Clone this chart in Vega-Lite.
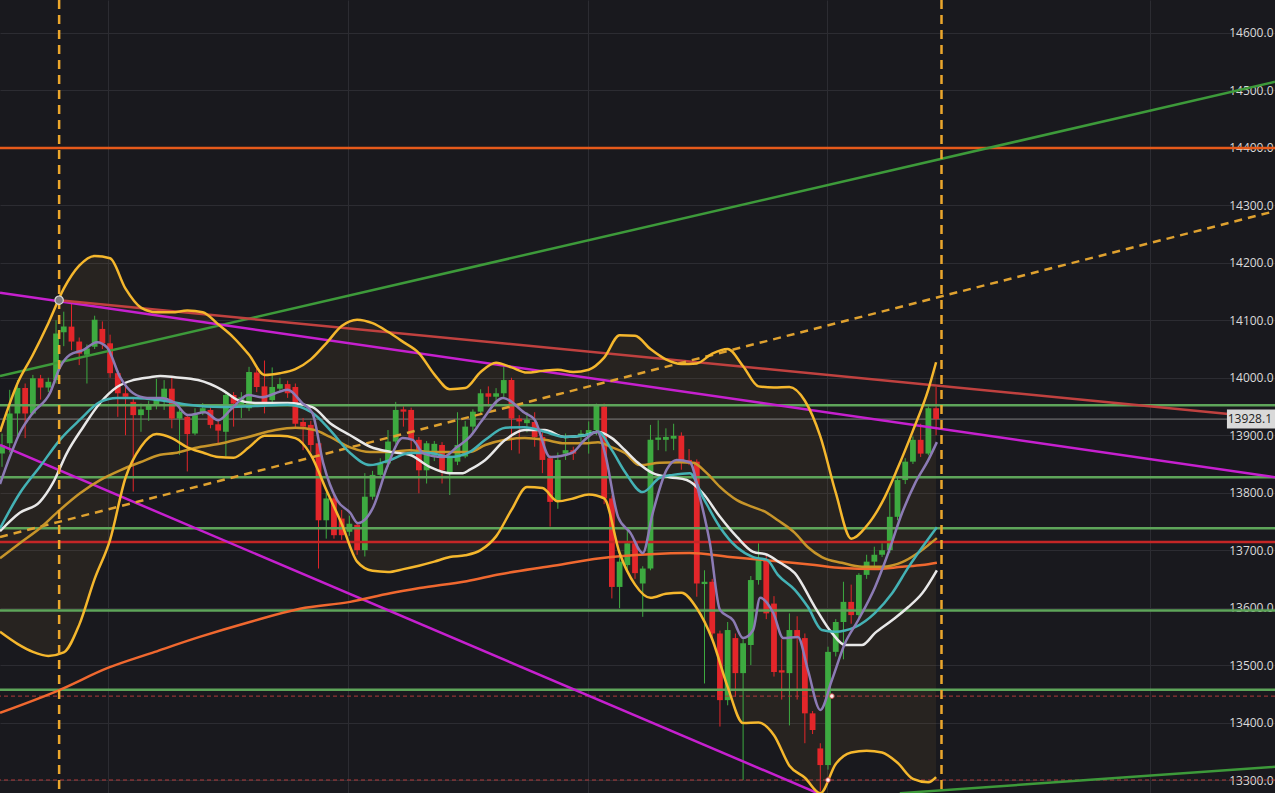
{
"$schema": "https://vega.github.io/schema/vega-lite/v6.json",
"width": 1275, "height": 793,
"autosize": {"type": "none"},
"padding": 0,
"background": "#19191e",
"config": {"view": {"stroke": null}},
"datasets": {
"candles": [
{"t":0,"o":13868,"h":13903,"l":13845,"c":13882},{"t":1,"o":13886,"h":13979,"l":13870,"c":13938},{"t":2,"o":13938,"h":13996,"l":13898,"c":13982},{"t":3,"o":13982,"h":13990,"l":13895,"c":13938},{"t":4,"o":13938,"h":14005,"l":13935,"c":13999},{"t":5,"o":13999,"h":14005,"l":13962,"c":13983},{"t":6,"o":13983,"h":14000,"l":13975,"c":13993},{"t":7,"o":13996,"h":14100,"l":13990,"c":14077},{"t":8,"o":14079,"h":14115,"l":14055,"c":14089},{"t":9,"o":14089,"h":14129,"l":14048,"c":14063},
{"t":10,"o":14063,"h":14070,"l":14022,"c":14042},{"t":11,"o":14040,"h":14058,"l":13990,"c":14051},{"t":12,"o":14054,"h":14108,"l":14050,"c":14101},{"t":13,"o":14085,"h":14098,"l":14050,"c":14060},{"t":14,"o":14060,"h":14075,"l":14000,"c":14008},{"t":15,"o":14008,"h":14012,"l":13932,"c":13973},{"t":16,"o":13973,"h":13985,"l":13900,"c":13967},{"t":17,"o":13958,"h":13965,"l":13802,"c":13935},{"t":18,"o":13935,"h":13955,"l":13906,"c":13945},{"t":19,"o":13944,"h":13960,"l":13925,"c":13952},
{"t":20,"o":13952,"h":13998,"l":13945,"c":13964},{"t":21,"o":13961,"h":13996,"l":13944,"c":13981},{"t":22,"o":13981,"h":14002,"l":13912,"c":13929},{"t":23,"o":13929,"h":13950,"l":13866,"c":13941},{"t":24,"o":13932,"h":13935,"l":13837,"c":13902},{"t":25,"o":13903,"h":13947,"l":13900,"c":13935},{"t":26,"o":13939,"h":13956,"l":13935,"c":13947},{"t":27,"o":13944,"h":13950,"l":13912,"c":13918},{"t":28,"o":13919,"h":13926,"l":13883,"c":13908},{"t":29,"o":13906,"h":13975,"l":13863,"c":13970},
{"t":30,"o":13970,"h":13975,"l":13915,"c":13955},{"t":31,"o":13953,"h":13975,"l":13930,"c":13966},{"t":32,"o":13947,"h":14019,"l":13942,"c":14010},{"t":33,"o":14009,"h":14016,"l":13975,"c":13984},{"t":34,"o":13985,"h":14030,"l":13938,"c":13955},{"t":35,"o":13961,"h":14018,"l":13955,"c":13984},{"t":36,"o":13981,"h":14000,"l":13975,"c":13989},{"t":37,"o":13989,"h":13995,"l":13965,"c":13973},{"t":38,"o":13984,"h":13990,"l":13912,"c":13920},{"t":39,"o":13923,"h":13930,"l":13874,"c":13915},
{"t":40,"o":13918,"h":13925,"l":13870,"c":13883},{"t":41,"o":13886,"h":13890,"l":13668,"c":13752},{"t":42,"o":13752,"h":13800,"l":13720,"c":13790},{"t":43,"o":13790,"h":13799,"l":13720,"c":13726},{"t":44,"o":13755,"h":13770,"l":13718,"c":13726},{"t":45,"o":13732,"h":13760,"l":13725,"c":13746},{"t":46,"o":13744,"h":13750,"l":13692,"c":13700},{"t":47,"o":13700,"h":13834,"l":13689,"c":13793},{"t":48,"o":13793,"h":13838,"l":13788,"c":13831},{"t":49,"o":13831,"h":13860,"l":13828,"c":13851},
{"t":50,"o":13851,"h":13909,"l":13845,"c":13889},{"t":51,"o":13889,"h":13958,"l":13885,"c":13944},{"t":52,"o":13945,"h":13950,"l":13915,"c":13941},{"t":53,"o":13944,"h":13948,"l":13868,"c":13892},{"t":54,"o":13892,"h":13897,"l":13799,"c":13839},{"t":55,"o":13839,"h":13890,"l":13816,"c":13886},{"t":56,"o":13863,"h":13890,"l":13855,"c":13885},{"t":57,"o":13883,"h":13888,"l":13816,"c":13839},{"t":58,"o":13834,"h":13868,"l":13796,"c":13862},{"t":59,"o":13854,"h":13940,"l":13848,"c":13883},
{"t":60,"o":13863,"h":13925,"l":13860,"c":13915},{"t":61,"o":13915,"h":13945,"l":13905,"c":13941},{"t":62,"o":13941,"h":13980,"l":13935,"c":13973},{"t":63,"o":13973,"h":13985,"l":13950,"c":13967},{"t":64,"o":13967,"h":13982,"l":13953,"c":13973},{"t":65,"o":13973,"h":14022,"l":13965,"c":13996},{"t":66,"o":13996,"h":14000,"l":13874,"c":13929},{"t":67,"o":13929,"h":13935,"l":13868,"c":13924},{"t":68,"o":13921,"h":13940,"l":13905,"c":13927},{"t":69,"o":13923,"h":13940,"l":13880,"c":13897},
{"t":70,"o":13897,"h":13905,"l":13834,"c":13857},{"t":71,"o":13860,"h":13865,"l":13741,"c":13784},{"t":72,"o":13784,"h":13870,"l":13772,"c":13857},{"t":73,"o":13868,"h":13903,"l":13857,"c":13874},{"t":74,"o":13874,"h":13880,"l":13857,"c":13868},{"t":75,"o":13897,"h":13909,"l":13885,"c":13903},{"t":76,"o":13903,"h":13924,"l":13868,"c":13909},{"t":77,"o":13909,"h":13955,"l":13900,"c":13952},{"t":78,"o":13950,"h":13955,"l":13780,"c":13790},{"t":79,"o":13790,"h":13795,"l":13616,"c":13636},
{"t":80,"o":13636,"h":13690,"l":13599,"c":13680},{"t":81,"o":13674,"h":13735,"l":13665,"c":13712},{"t":82,"o":13712,"h":13718,"l":13650,"c":13660},{"t":83,"o":13642,"h":13672,"l":13584,"c":13668},{"t":84,"o":13668,"h":13918,"l":13665,"c":13892},{"t":85,"o":13892,"h":13926,"l":13874,"c":13896},{"t":86,"o":13892,"h":13912,"l":13872,"c":13897},{"t":87,"o":13894,"h":13920,"l":13874,"c":13899},{"t":88,"o":13899,"h":13905,"l":13840,"c":13854},{"t":89,"o":13857,"h":13876,"l":13848,"c":13851},
{"t":90,"o":13854,"h":13858,"l":13619,"c":13642},{"t":91,"o":13641,"h":13665,"l":13468,"c":13645},{"t":92,"o":13645,"h":13650,"l":13545,"c":13555},{"t":93,"o":13555,"h":13560,"l":13393,"c":13439},{"t":94,"o":13439,"h":13575,"l":13430,"c":13561},{"t":95,"o":13547,"h":13555,"l":13445,"c":13486},{"t":96,"o":13486,"h":13545,"l":13300,"c":13538},{"t":97,"o":13535,"h":13655,"l":13500,"c":13648},{"t":98,"o":13648,"h":13712,"l":13640,"c":13683},{"t":99,"o":13683,"h":13690,"l":13580,"c":13590},
{"t":100,"o":13607,"h":13620,"l":13480,"c":13488},{"t":101,"o":13491,"h":13545,"l":13440,"c":13487},{"t":102,"o":13486,"h":13590,"l":13395,"c":13561},{"t":103,"o":13561,"h":13585,"l":13440,"c":13549},{"t":104,"o":13547,"h":13555,"l":13364,"c":13416},{"t":105,"o":13416,"h":13420,"l":13380,"c":13387},{"t":106,"o":13355,"h":13364,"l":13280,"c":13326},{"t":107,"o":13326,"h":13532,"l":13318,"c":13523},{"t":108,"o":13523,"h":13580,"l":13515,"c":13575},{"t":109,"o":13575,"h":13645,"l":13510,"c":13610},
{"t":110,"o":13610,"h":13640,"l":13572,"c":13587},{"t":111,"o":13587,"h":13660,"l":13580,"c":13657},{"t":112,"o":13657,"h":13692,"l":13650,"c":13680},{"t":113,"o":13680,"h":13706,"l":13672,"c":13692},{"t":114,"o":13692,"h":13712,"l":13688,"c":13700},{"t":115,"o":13700,"h":13800,"l":13695,"c":13758},{"t":116,"o":13758,"h":13826,"l":13752,"c":13822},{"t":117,"o":13822,"h":13860,"l":13815,"c":13854},{"t":118,"o":13854,"h":13898,"l":13850,"c":13892},{"t":119,"o":13892,"h":13920,"l":13862,"c":13868},
{"t":120,"o":13868,"h":13950,"l":13865,"c":13947},{"t":121,"o":13947,"h":13984,"l":13900,"c":13928.1}
],
"bb": [
{"t":-0.26,"u":13906,"l":13558},{"t":2,"u":13990,"l":13537},{"t":4,"u":14040,"l":13523},{"t":6,"u":14095,"l":13516},{"t":8,"u":14155,"l":13522},{"t":10,"u":14195,"l":13570},{"t":12,"u":14212,"l":13650},{"t":14,"u":14208,"l":13718},{"t":16,"u":14155,"l":13826},{"t":18,"u":14122,"l":13880},
{"t":20,"u":14114,"l":13902},{"t":22,"u":14114,"l":13895},{"t":24,"u":14117,"l":13879},{"t":26,"u":14114,"l":13870},{"t":28,"u":14093,"l":13862},{"t":30,"u":14070,"l":13861},{"t":32,"u":14040,"l":13879},{"t":34,"u":14005,"l":13899},{"t":36,"u":14008,"l":13899},{"t":38,"u":14015,"l":13895},
{"t":40,"u":14032,"l":13866},{"t":42,"u":14060,"l":13805},{"t":44,"u":14090,"l":13746},{"t":46,"u":14101,"l":13680},{"t":48,"u":14095,"l":13664},{"t":50,"u":14080,"l":13662},{"t":52,"u":14062,"l":13667},{"t":54,"u":14043,"l":13673},{"t":56,"u":14006,"l":13680},{"t":58,"u":13980,"l":13688},
{"t":60,"u":13982,"l":13691},{"t":62,"u":14010,"l":13700},{"t":64,"u":14026,"l":13724},{"t":66,"u":14018,"l":13770},{"t":68,"u":14009,"l":13810},{"t":70,"u":14012,"l":13808},{"t":72,"u":14014,"l":13785},{"t":74,"u":14010,"l":13790},{"t":76,"u":14014,"l":13797},{"t":78,"u":14035,"l":13790},
{"t":80,"u":14074,"l":13695},{"t":82,"u":14073,"l":13640},{"t":84,"u":14050,"l":13617},{"t":86,"u":14032,"l":13624},{"t":88,"u":14024,"l":13626},{"t":90,"u":14025,"l":13599},{"t":92,"u":14042,"l":13545},{"t":94,"u":14050,"l":13462},{"t":96,"u":14020,"l":13399},{"t":98,"u":13985,"l":13400},
{"t":100,"u":13983,"l":13378},{"t":102,"u":13984,"l":13325},{"t":104,"u":13960,"l":13304},{"t":106,"u":13898,"l":13277},{"t":108,"u":13800,"l":13328},{"t":110,"u":13720,"l":13348},{"t":112,"u":13742,"l":13351},{"t":114,"u":13783,"l":13348},{"t":116,"u":13842,"l":13330},{"t":118,"u":13908,"l":13302},
{"t":120,"u":13980,"l":13296},{"t":121,"u":14027,"l":13305}
],
"ma": [
{"s":"O","t":-0.26,"v":13417},{"s":"O","t":7.5,"v":13457},{"s":"O","t":13.7,"v":13495},{"s":"O","t":19.8,"v":13523},{"s":"O","t":25.6,"v":13549},{"s":"O","t":32.1,"v":13575},{"s":"O","t":38.6,"v":13598},{"s":"O","t":45.1,"v":13610},{"s":"O","t":50.3,"v":13625},{"s":"O","t":54.1,"v":13634},{"s":"O","t":60.2,"v":13646},{"s":"O","t":64.5,"v":13658},{"s":"O","t":71,"v":13672},{"s":"O","t":77.5,"v":13686},{"s":"O","t":83.9,"v":13693},{"s":"O","t":89.1,"v":13695},{"s":"O","t":94.3,"v":13688},{"s":"O","t":100.1,"v":13681},{"s":"O","t":105.3,"v":13674},{"s":"O","t":108.8,"v":13669},{"s":"O","t":113.1,"v":13667},{"s":"O","t":116.6,"v":13671},{"s":"O","t":119.2,"v":13674},{"s":"O","t":121.1,"v":13678},
{"s":"G","t":-0.26,"v":13686},{"s":"G","t":2.3,"v":13712},{"s":"G","t":4.9,"v":13738},{"s":"G","t":7.5,"v":13770},{"s":"G","t":10.1,"v":13799},{"s":"G","t":12.7,"v":13822},{"s":"G","t":15.3,"v":13839},{"s":"G","t":17.9,"v":13853},{"s":"G","t":20.5,"v":13866},{"s":"G","t":22.4,"v":13869},{"s":"G","t":25,"v":13878},{"s":"G","t":28.5,"v":13886},{"s":"G","t":31.9,"v":13897},{"s":"G","t":35.4,"v":13909},{"s":"G","t":38,"v":13913},{"s":"G","t":40.5,"v":13909},{"s":"G","t":42.5,"v":13897},{"s":"G","t":45.1,"v":13879},{"s":"G","t":47.7,"v":13871},{"s":"G","t":50.3,"v":13871},{"s":"G","t":52.8,"v":13874},{"s":"G","t":55.4,"v":13871},{"s":"G","t":60.6,"v":13871},{"s":"G","t":62.6,"v":13883},{"s":"G","t":65.2,"v":13892},{"s":"G","t":67.7,"v":13895},{"s":"G","t":70.3,"v":13892},{"s":"G","t":72.9,"v":13886},{"s":"G","t":75.5,"v":13886},{"s":"G","t":77.2,"v":13888},{"s":"G","t":79,"v":13879},{"s":"G","t":80.7,"v":13869},{"s":"G","t":82.6,"v":13848},{"s":"G","t":85.2,"v":13852},{"s":"G","t":87.8,"v":13853},{"s":"G","t":89.5,"v":13852},{"s":"G","t":91.3,"v":13834},{"s":"G","t":93,"v":13810},{"s":"G","t":95.2,"v":13787},{"s":"G","t":97.3,"v":13775},{"s":"G","t":99.1,"v":13765},{"s":"G","t":100.5,"v":13752},{"s":"G","t":102.7,"v":13730},{"s":"G","t":104.4,"v":13705},{"s":"G","t":106.2,"v":13688},{"s":"G","t":108.8,"v":13678},{"s":"G","t":111.4,"v":13671},{"s":"G","t":114,"v":13671},{"s":"G","t":116.6,"v":13679},{"s":"G","t":118.3,"v":13692},{"s":"G","t":120,"v":13709},{"s":"G","t":121.1,"v":13721},
{"s":"W","t":-0.26,"v":13733},{"s":"W","t":2.3,"v":13765},{"s":"W","t":4.9,"v":13784},{"s":"W","t":6.6,"v":13817},{"s":"W","t":8.4,"v":13869},{"s":"W","t":10.5,"v":13914},{"s":"W","t":12.7,"v":13956},{"s":"W","t":14.9,"v":13984},{"s":"W","t":17,"v":13996},{"s":"W","t":19.2,"v":14001},{"s":"W","t":20.5,"v":14003},{"s":"W","t":22.4,"v":14001},{"s":"W","t":25.4,"v":13996},{"s":"W","t":28.5,"v":13979},{"s":"W","t":30.6,"v":13961},{"s":"W","t":32.8,"v":13956},{"s":"W","t":37,"v":13956},{"s":"W","t":40.2,"v":13949},{"s":"W","t":42.5,"v":13921},{"s":"W","t":45.1,"v":13900},{"s":"W","t":47.7,"v":13880},{"s":"W","t":50.3,"v":13871},{"s":"W","t":52.8,"v":13866},{"s":"W","t":55.4,"v":13845},{"s":"W","t":58,"v":13834},{"s":"W","t":59.7,"v":13834},{"s":"W","t":60.6,"v":13840},{"s":"W","t":62.6,"v":13857},{"s":"W","t":65.2,"v":13892},{"s":"W","t":67.7,"v":13909},{"s":"W","t":70.3,"v":13909},{"s":"W","t":72.9,"v":13897},{"s":"W","t":75.5,"v":13900},{"s":"W","t":77.2,"v":13906},{"s":"W","t":79,"v":13895},{"s":"W","t":80.7,"v":13874},{"s":"W","t":82.3,"v":13853},{"s":"W","t":84.3,"v":13834},{"s":"W","t":86.5,"v":13827},{"s":"W","t":88.7,"v":13822},{"s":"W","t":90.8,"v":13799},{"s":"W","t":93,"v":13758},{"s":"W","t":95.2,"v":13723},{"s":"W","t":97.3,"v":13697},{"s":"W","t":99.1,"v":13692},{"s":"W","t":100.8,"v":13678},{"s":"W","t":102.7,"v":13660},{"s":"W","t":105.3,"v":13601},{"s":"W","t":107.5,"v":13556},{"s":"W","t":109.2,"v":13535},{"s":"W","t":111.4,"v":13535},{"s":"W","t":113.1,"v":13556},{"s":"W","t":115.3,"v":13578},{"s":"W","t":117.4,"v":13601},{"s":"W","t":119.2,"v":13625},{"s":"W","t":121.1,"v":13665},
{"s":"T","t":-0.26,"v":13738},{"s":"T","t":2.3,"v":13799},{"s":"T","t":4.9,"v":13845},{"s":"T","t":7.5,"v":13892},{"s":"T","t":10.1,"v":13927},{"s":"T","t":12.7,"v":13958},{"s":"T","t":14.9,"v":13965},{"s":"T","t":17,"v":13965},{"s":"T","t":20.5,"v":13961},{"s":"T","t":22,"v":13958},{"s":"T","t":24.1,"v":13953},{"s":"T","t":28.5,"v":13949},{"s":"T","t":32.8,"v":13951},{"s":"T","t":37,"v":13953},{"s":"T","t":40.2,"v":13939},{"s":"T","t":42.5,"v":13909},{"s":"T","t":45.1,"v":13869},{"s":"T","t":47.7,"v":13848},{"s":"T","t":50.3,"v":13857},{"s":"T","t":52.8,"v":13869},{"s":"T","t":55.4,"v":13869},{"s":"T","t":58,"v":13862},{"s":"T","t":60.6,"v":13871},{"s":"T","t":62.6,"v":13892},{"s":"T","t":65.2,"v":13913},{"s":"T","t":67.7,"v":13914},{"s":"T","t":70.3,"v":13906},{"s":"T","t":72.9,"v":13897},{"s":"T","t":75.5,"v":13900},{"s":"T","t":77.2,"v":13906},{"s":"T","t":79,"v":13874},{"s":"T","t":80.7,"v":13836},{"s":"T","t":83,"v":13801},{"s":"T","t":85.2,"v":13826},{"s":"T","t":86.9,"v":13831},{"s":"T","t":89.1,"v":13834},{"s":"T","t":90.8,"v":13792},{"s":"T","t":93,"v":13740},{"s":"T","t":95.2,"v":13705},{"s":"T","t":97.3,"v":13688},{"s":"T","t":99.1,"v":13683},{"s":"T","t":100.5,"v":13657},{"s":"T","t":102.7,"v":13631},{"s":"T","t":104.4,"v":13601},{"s":"T","t":106.2,"v":13561},{"s":"T","t":107.9,"v":13558},{"s":"T","t":110.5,"v":13566},{"s":"T","t":113.1,"v":13591},{"s":"T","t":115.3,"v":13625},{"s":"T","t":117.4,"v":13670},{"s":"T","t":119.2,"v":13705},{"s":"T","t":121.1,"v":13740},
{"s":"P","t":-0.26,"v":13815},{"s":"P","t":1,"v":13862},{"s":"P","t":2.3,"v":13904},{"s":"P","t":4,"v":13939},{"s":"P","t":6.2,"v":13973},{"s":"P","t":7.5,"v":14018},{"s":"P","t":8.8,"v":14040},{"s":"P","t":10.5,"v":14048},{"s":"P","t":12.3,"v":14062},{"s":"P","t":13.6,"v":14053},{"s":"P","t":15.3,"v":14001},{"s":"P","t":17,"v":13973},{"s":"P","t":18.8,"v":13965},{"s":"P","t":20.5,"v":13965},{"s":"P","t":22.4,"v":13956},{"s":"P","t":24.1,"v":13935},{"s":"P","t":26.3,"v":13940},{"s":"P","t":28,"v":13926},{"s":"P","t":29.8,"v":13947},{"s":"P","t":31.9,"v":13970},{"s":"P","t":33.7,"v":13966},{"s":"P","t":35.4,"v":13973},{"s":"P","t":37,"v":13979},{"s":"P","t":38.9,"v":13956},{"s":"P","t":40.2,"v":13939},{"s":"P","t":41.6,"v":13852},{"s":"P","t":43.4,"v":13787},{"s":"P","t":45.1,"v":13765},{"s":"P","t":46.1,"v":13747},{"s":"P","t":48.1,"v":13775},{"s":"P","t":49.9,"v":13845},{"s":"P","t":51.9,"v":13895},{"s":"P","t":53.2,"v":13892},{"s":"P","t":54.5,"v":13869},{"s":"P","t":57.1,"v":13862},{"s":"P","t":58.9,"v":13879},{"s":"P","t":60.6,"v":13897},{"s":"P","t":62.2,"v":13926},{"s":"P","t":64.9,"v":13965},{"s":"P","t":67.7,"v":13939},{"s":"P","t":69,"v":13927},{"s":"P","t":71,"v":13862},{"s":"P","t":73.8,"v":13869},{"s":"P","t":75.5,"v":13892},{"s":"P","t":77.1,"v":13906},{"s":"P","t":78.1,"v":13869},{"s":"P","t":79.8,"v":13758},{"s":"P","t":81.4,"v":13730},{"s":"P","t":83,"v":13695},{"s":"P","t":84.3,"v":13765},{"s":"P","t":86.1,"v":13840},{"s":"P","t":87.4,"v":13857},{"s":"P","t":89.1,"v":13853},{"s":"P","t":90.4,"v":13792},{"s":"P","t":91.7,"v":13712},{"s":"P","t":93,"v":13596},{"s":"P","t":94.7,"v":13578},{"s":"P","t":96,"v":13547},{"s":"P","t":97.3,"v":13561},{"s":"P","t":98.2,"v":13617},{"s":"P","t":99.9,"v":13591},{"s":"P","t":101.2,"v":13547},{"s":"P","t":103.1,"v":13549},{"s":"P","t":104.4,"v":13491},{"s":"P","t":106,"v":13422},{"s":"P","t":107.5,"v":13474},{"s":"P","t":109.2,"v":13538},{"s":"P","t":110.9,"v":13578},{"s":"P","t":113.1,"v":13636},{"s":"P","t":114.8,"v":13695},{"s":"P","t":116.6,"v":13765},{"s":"P","t":118.3,"v":13817},{"s":"P","t":120,"v":13857},{"s":"P","t":121.1,"v":13888}
],
"hl": [{"p":14400,"k":"o"},{"p":13952,"k":"g"},{"p":13827,"k":"g"},{"p":13738,"k":"g"},{"p":13595,"k":"g"},{"p":13457,"k":"g"},{"p":13714,"k":"r"}],
"hd": [{"p":13446},{"p":13300}],
"last": [{"p":13928.1}],
"tr": [
{"id":"g1","t":-0.26,"p":14003},{"id":"g1","t":164.9,"p":14515},
{"id":"g2","t":116.3,"p":13277},{"id":"g2","t":164.9,"p":13323},
{"id":"m1","t":-0.26,"p":14148},{"id":"m1","t":164.9,"p":13827},
{"id":"m2","t":-0.26,"p":13883},{"id":"m2","t":106.2,"p":13274},
{"id":"r1","t":7.4,"p":14135},{"id":"r1","t":158.9,"p":13937}
],
"td": [{"t":-0.26,"p":13723},{"t":164.9,"p":14290}],
"vl": [{"t":7.4},{"t":121.7}],
"mk1": [{"t":7.4,"p":14135}],
"mk2": [{"t":107.5,"p":13446},{"t":107.0,"p":13300}]
},
"layer": [
{"data":{"name":"bb"},"mark":{"type":"area","fill":"#c89640","opacity":0.08,"interpolate":"monotone","clip":true},
 "encoding":{
  "x":{"field":"t","type":"quantitative","title":null,"scale":{"domain":[-0.26,164.9],"nice":false,"zero":false,"padding":0},
       "axis":{"values":[13.73,44.82,75.91,106.87,148.7],"labels":false,"ticks":false,"domain":false,"grid":true,"gridColor":"#2c2c32","gridWidth":1,"title":null}},
  "y":{"field":"u","type":"quantitative","title":null,"scale":{"domain":[13277.4,14657.4],"nice":false,"zero":false,"padding":0},
       "axis":{"orient":"right","values":[13300,13400,13500,13600,13700,13800,13900,14000,14100,14200,14300,14400,14500,14600],"format":".1f","ticks":false,"domain":false,"labelAlign":"right","labelPadding":-2,"labelFlush":false,"labelColor":"#dadada","labelFont":"Open Sans","labelFontSize":12,"grid":true,"gridColor":"#2c2c32","gridWidth":1,"title":null}},
  "y2":{"field":"l"}}},
{"data":{"name":"last"},"mark":{"type":"rule","color":"#9a9a9a","strokeWidth":1,"opacity":0.8},
 "encoding":{"y":{"field":"p","type":"quantitative","title":null}}},
{"data":{"name":"candles"},"mark":{"type":"rule","strokeWidth":1,"clip":true},
 "encoding":{"x":{"field":"t","type":"quantitative","title":null},"y":{"field":"l","type":"quantitative","title":null},"y2":{"field":"h"},
  "color":{"condition":{"test":"datum.c >= datum.o","value":"#3daa40"},"value":"#e3262a"}}},
{"data":{"name":"candles"},"mark":{"type":"bar","size":5.8,"clip":true},
 "encoding":{"x":{"field":"t","type":"quantitative","title":null},"y":{"field":"o","type":"quantitative","title":null},"y2":{"field":"c"},
  "color":{"condition":{"test":"datum.c >= datum.o","value":"#3daa40"},"value":"#e3262a"}}},
{"data":{"name":"hl"},"mark":{"type":"rule","strokeWidth":2.5},
 "encoding":{"y":{"field":"p","type":"quantitative","title":null},
  "color":{"field":"k","type":"nominal","scale":{"domain":["g","r","o"],"range":["#5ea55a","#c52626","#e65a1b"]},"legend":null}}},
{"data":{"name":"hd"},"mark":{"type":"rule","strokeWidth":1,"color":"#b03a3a","strokeDash":[4,3]},
 "encoding":{"y":{"field":"p","type":"quantitative","title":null}}},
{"data":{"name":"tr"},"mark":{"type":"line","strokeWidth":2.5,"clip":true},
 "encoding":{"x":{"field":"t","type":"quantitative","title":null},"y":{"field":"p","type":"quantitative","title":null},
  "color":{"field":"id","type":"nominal","scale":{"domain":["g1","g2","m1","m2","r1"],"range":["#3d9a3a","#3d9a3a","#c620cf","#c620cf","#c0413f"]},"legend":null}}},
{"data":{"name":"td"},"mark":{"type":"line","strokeWidth":2.5,"color":"#dfa12f","strokeDash":[8,6],"clip":true},
 "encoding":{"x":{"field":"t","type":"quantitative","title":null},"y":{"field":"p","type":"quantitative","title":null}}},
{"data":{"name":"ma"},"mark":{"type":"line","strokeWidth":2.5,"interpolate":"monotone","clip":true},
 "encoding":{"x":{"field":"t","type":"quantitative","title":null},"y":{"field":"v","type":"quantitative","title":null},
  "color":{"field":"s","type":"nominal","scale":{"domain":["O","G","W","T","P"],"range":["#f0682f","#c7952a","#e8e8e8","#44b2b5","#8c7bb5"]},"legend":null}}},
{"data":{"name":"bb"},"mark":{"type":"line","strokeWidth":2.5,"color":"#f5b72d","interpolate":"monotone","clip":true},
 "encoding":{"x":{"field":"t","type":"quantitative","title":null},"y":{"field":"u","type":"quantitative","title":null}}},
{"data":{"name":"bb"},"mark":{"type":"line","strokeWidth":2.5,"color":"#f5b72d","interpolate":"monotone","clip":true},
 "encoding":{"x":{"field":"t","type":"quantitative","title":null},"y":{"field":"l","type":"quantitative","title":null}}},
{"data":{"name":"vl"},"mark":{"type":"rule","strokeWidth":2.5,"color":"#eca72c","strokeDash":[9,6]},
 "encoding":{"x":{"field":"t","type":"quantitative","title":null}}},
{"data":{"name":"mk1"},"mark":{"type":"point","filled":true,"size":70,"fill":"#7a7a80","stroke":"#d8d8d8","strokeWidth":1.2,"opacity":1},
 "encoding":{"x":{"field":"t","type":"quantitative","title":null},"y":{"field":"p","type":"quantitative","title":null}}},
{"data":{"name":"mk2"},"mark":{"type":"point","filled":true,"size":22,"fill":"#fff2f2","stroke":"#d05050","strokeWidth":1,"opacity":1},
 "encoding":{"x":{"field":"t","type":"quantitative","title":null},"y":{"field":"p","type":"quantitative","title":null}}},
{"data":{"name":"last"},"mark":{"type":"point","shape":"M-1.27,-0.5L1.27,-0.5L1.27,0.5L-1.27,0.5Z","size":1444,"filled":true,"fill":"#d9d9d9","opacity":1},
 "encoding":{"x":{"datum":161.8,"type":"quantitative"},"y":{"field":"p","type":"quantitative","title":null}}},
{"data":{"name":"last"},"mark":{"type":"text","align":"right","baseline":"middle","dx":-3,"font":"Open Sans","fontSize":12,"color":"#222222"},
 "encoding":{"x":{"datum":164.9,"type":"quantitative"},"y":{"field":"p","type":"quantitative","title":null},"text":{"field":"p","type":"quantitative","format":".1f"}}}
],
"resolve":{"scale":{"color":"independent"}}
}
